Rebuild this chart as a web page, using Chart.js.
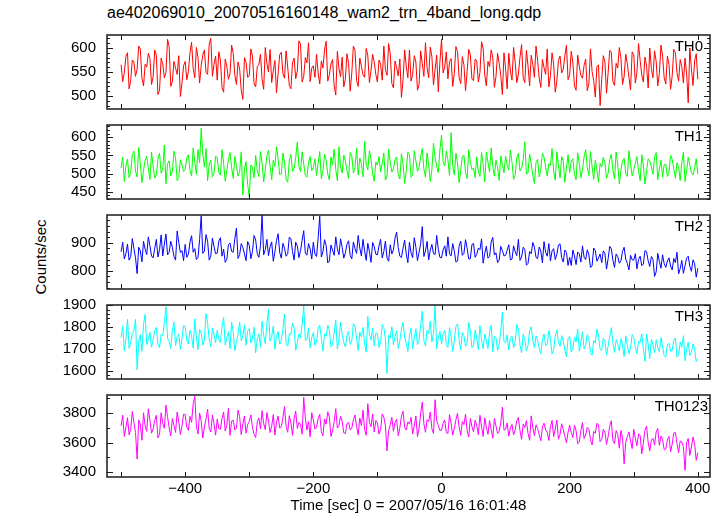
<!DOCTYPE html>
<html>
<head>
<meta charset="utf-8">
<script src="https://cdn.jsdelivr.net/npm/chart.js@4.4.0/dist/chart.umd.min.js"></script>
<style>
  body { margin: 0; background: #fff; }
  #wrap { position: relative; width: 724px; height: 516px; overflow: hidden; font-family: "Liberation Sans", Arial, sans-serif; color: #000; }
  #title { position: absolute; left: 107px; top: 5px; font-size: 16px; line-height: 16px; white-space: nowrap; }
  #ylabel { position: absolute; left: 40px; top: 257px; transform: translate(-50%, -50%) rotate(-90deg); font-size: 15px; line-height: 15px; white-space: nowrap; }
  canvas { position: absolute; left: 0; }
</style>
</head>
<body>
<div id="wrap">
  <div id="title">ae402069010_20070516160148_wam2_trn_4band_long.qdp</div>
  <div id="ylabel">Counts/sec</div>
  <canvas id="c0"></canvas>
  <canvas id="c1"></canvas>
  <canvas id="c2"></canvas>
  <canvas id="c3"></canvas>
  <canvas id="c4"></canvas>
</div>
<script>
// light curves, 2.5 s bins starting at -500 s
const binStart = -500;
const binSize = 2.5;

const th0 = [
  565,530, 548,582, 590,515, 532,575, 571,541, 556,604, 598,537, 521,566, 560,589, 578,524,
  540,596, 585,503, 512,579, 567,538, 549,618, 603,520, 530,572, 558,545, 584,499, 527,563,
  572,534, 551,590, 612,557, 538,601, 580,527, 563,585, 596,549, 545,608, 620,541, 566,583,
  533,592, 575,518, 508,577, 561,535, 547,606, 589,543, 524,571, 556,512, 493,580, 570,539,
  542,598, 583,526, 519,561, 566,587, 535,514, 601,568, 550,597, 528,553, 574,507, 546,586,
  591,547, 537,594, 560,522, 515,569, 579,536, 552,615, 608,529, 541,580, 569,611, 530,558,
  563,539, 587,548, 525,573, 558,596, 614,531, 544,567, 576,521, 502,593, 557,540, 581,519,
  536,588, 568,510, 548,604, 595,532, 520,579, 562,544, 539,599, 584,528, 553,587, 571,545,
  529,575, 566,533, 604,555, 543,609, 588,526, 517,573, 559,542, 577,497, 534,596, 562,538,
  596,531, 545,584, 571,512, 524,594, 567,541, 611,559, 538,602, 582,523, 555,585, 509,570,
  618,548, 560,592, 536,571, 578,520, 547,603, 593,538, 526,582, 565,511, 551,597, 586,535,
  532,577, 573,529, 549,613, 599,544, 521,572, 561,596, 580,518, 540,589, 568,543, 503,590,
  557,515, 589,552, 533,601, 570,528, 546,581, 607,537, 528,595, 563,521, 585,566, 539,604,
  574,537, 518,576, 559,545, 598,519, 542,590, 566,508, 531,574, 583,548, 556,583, 606,534,
  544,593, 569,521, 512,585, 562,543, 537,564, 577,511, 526,598, 551,532, 498,561, 565,480,
  534,584, 571,506, 548,595, 592,530, 522,568, 558,601, 579,524, 541,587, 567,539, 513,592,
  586,527, 550,609, 574,544, 529,581, 563,517, 600,557, 538,594, 572,521, 547,606, 583,538,
  525,583, 566,514, 542,597, 590,549, 531,576, 561,527, 579,547, 486,600, 557,522, 573,588,
  535
];

const th1 = [
  515,546, 478,521, 540,489, 503,552, 562,507, 491,572, 527,475, 509,536, 548,513, 484,559,
  521,488, 497,540, 556,501, 512,579, 472,527, 535,494, 506,562, 543,481, 489,538, 524,506,
  511,543, 552,509, 493,571, 531,498, 566,530, 625,554, 518,569, 480,526, 537,491, 502,548,
  545,503, 496,566, 528,479, 510,539, 558,516, 487,547, 522,493, 505,560, 441,512, 533,470,
  436,524, 517,489, 550,508, 492,561, 529,477, 511,549, 564,519, 483,537, 520,574, 541,497,
  499,557, 532,484, 476,537, 553,506, 514,544, 587,521, 506,560, 526,495, 490,530, 547,508,
  518,541, 495,528, 561,486, 508,553, 537,499, 482,546, 525,567, 512,480, 574,519, 501,551,
  534,509, 487,558, 549,502, 516,570, 496,543, 528,491, 589,526, 510,563, 540,500, 479,532,
  523,547, 505,529, 557,482, 493,568, 531,504, 514,539, 546,497, 485,555, 527,473, 508,559,
  552,490, 498,563, 535,506, 517,548, 569,513, 490,557, 524,478, 511,584, 544,520, 503,565,
  606,533, 521,562, 538,495, 613,522, 497,556, 529,475, 509,547, 551,503, 486,566, 533,511,
  515,489, 546,505, 492,558, 527,477, 560,532, 504,571, 519,493, 537,518, 481,549, 525,502,
  548,524, 510,565, 531,484, 496,543, 556,507, 514,538, 588,499, 502,554, 528,495, 473,531,
  539,491, 512,556, 545,518, 493,527, 522,569, 507,482, 560,523, 488,547, 534,476, 516,552,
  503,534, 541,498, 483,557, 527,489, 511,546, 566,517, 495,561, 520,484, 537,512, 476,528,
  518,545, 531,487, 500,539, 553,510, 485,560, 524,472, 509,536, 542,501, 492,563, 527,494,
  511,529, 547,506, 480,552, 522,471, 506,541, 535,518, 498,547, 558,483, 513,537, 490,525,
  526,492, 504,550, 539,514, 487,530, 519,481, 531,559, 478,508, 545,523, 502,496, 516,541,
  498
];

const th2 = [
  868,902, 842,861, 895,838, 851,915, 880,846, 790,884, 871,832, 905,877, 858,921, 889,853,
  846,880, 912,849, 875,928, 853,896, 931,857, 866,905, 884,851, 838,942, 901,865, 872,836,
  894,848, 859,903, 925,866, 879,840, 847,911, 996,862, 870,929, 905,838, 852,917, 886,861,
  863,906, 918,852, 877,830, 841,893, 899,869, 866,915, 952,844, 858,897, 883,860, 836,904,
  891,843, 869,926, 910,861, 848,890, 998,857, 875,912, 854,886, 903,834, 867,908, 932,865,
  845,898, 880,852, 861,920, 914,869, 838,902, 889,847, 872,909, 943,863, 856,897, 878,842,
  902,860, 851,917, 995,849, 868,911, 890,828, 835,892, 874,855, 921,878, 857,914, 883,845,
  864,895, 907,855, 842,903, 879,862, 926,881, 853,912, 871,837, 898,868, 830,901, 886,859,
  857,889, 912,846, 869,906, 845,834, 893,860, 875,917, 938,883, 852,847, 881,909, 860,829,
  902,863, 847,918, 884,836, 866,897, 958,851, 871,905, 839,874, 894,861, 858,926, 877,848,
  846,875, 889,852, 921,860, 853,897, 870,831, 835,888, 906,855, 862,911, 880,842, 843,894,
  897,848, 859,881, 875,914, 827,862, 888,845, 851,903, 919,856, 864,829, 838,887, 872,853,
  855,873, 893,839, 841,889, 868,854, 912,837, 849,884, 876,820, 826,869, 861,901, 884,848,
  843,885, 870,828, 904,866, 852,897, 835,871, 879,840, 859,892, 896,847, 831,874, 865,819,
  848,819, 874,853, 822,867, 861,831, 889,848, 840,875, 857,812, 818,881, 872,834, 846,860,
  829,871, 862,806, 843,887, 878,838, 812,860, 851,827, 836,869, 884,842, 826,803, 855,839,
  838,861, 807,840, 852,818, 824,872, 868,836, 815,851, 841,780, 796,862, 833,809, 857,826,
  812,835, 846,817, 803,844, 829,866, 789,808, 837,791, 818,845, 852,816, 798,839, 826,777,
  809
];

const th3 = [
  1752,1804, 1690,1746, 1835,1702, 1728,1769, 1781,1835, 1603,1731, 1764,1688, 1812,1858, 1719,1742, 1776,1707,
  1741,1783, 1798,1721, 1705,1766, 1760,1819, 1893,1748, 1733,1702, 1787,1823, 1714,1757, 1769,1697, 1746,1806,
  1804,1739, 1722,1784, 1758,1703, 1837,1752, 1695,1789, 1771,1716, 1740,1862, 1816,1744, 1709,1795, 1763,1728,
  1785,1745, 1728,1803, 1843,1717, 1751,1778, 1701,1822, 1775,1691, 1734,1768, 1822,1737, 1760,1810, 1716,1782,
  1792,1726, 1747,1799, 1681,1743, 1768,1707, 1826,1762, 1724,1814, 1881,1735, 1756,1805, 1698,1758, 1779,1721,
  1738,1787, 1859,1725, 1711,1770, 1766,1818, 1795,1694, 1727,1768, 1752,1811, 1897,1739, 1743,1796, 1704,1752,
  1774,1716, 1732,1794, 1809,1748, 1689,1769, 1758,1807, 1786,1709, 1720,1776, 1832,1698, 1745,1821, 1765,1730,
  1708,1761, 1779,1720, 1736,1815, 1804,1749, 1692,1777, 1755,1798, 1723,1684, 1848,1766, 1741,1795, 1714,1772,
  1770,1706, 1729,1812, 1797,1744, 1586,1762, 1750,1801, 1718,1758, 1783,1702, 1737,1789, 1821,1753, 1726,1688,
  1761,1794, 1700,1753, 1792,1719, 1744,1808, 1873,1736, 1712,1786, 1768,1827, 1731,1771, 1899,1701, 1749,1780,
  1722,1768, 1785,1719, 1706,1797, 1757,1688, 1738,1803, 1814,1742, 1695,1775, 1760,1711, 1727,1821, 1782,1705,
  1715,1786, 1748,1697, 1806,1739, 1699,1768, 1737,1701, 1776,1809, 1685,1758, 1752,1692, 1721,1781, 1869,1733,
  1728,1764, 1694,1751, 1759,1704, 1733,1812, 1790,1716, 1681,1767, 1744,1690, 1716,1783, 1801,1738, 1706,1759,
  1739,1702, 1677,1743, 1768,1715, 1720,1783, 1748,1676, 1696,1758, 1787,1729, 1711,1760, 1735,1694, 1663,1747,
  1757,1685, 1702,1752, 1731,1790, 1689,1731, 1778,1699, 1717,1765, 1744,1683, 1670,1738, 1726,1790, 1761,1697,
  1693,1749, 1735,1670, 1712,1756, 1797,1727, 1683,1741, 1722,1690, 1747,1718, 1664,1759, 1715,1678, 1701,1766,
  1752,1707, 1676,1733, 1729,1768, 1698,1642, 1768,1722, 1655,1743, 1718,1682, 1741,1704, 1687,1752, 1709,1669,
  1661,1719, 1724,1688, 1693,1740, 1749,1662, 1672,1729, 1706,1760, 1645,1698, 1731,1669, 1684,1722, 1698,1641,
  1652
];

const th0123 = [
  3712,3785, 3641,3700, 3768,3652, 3689,3809, 3735,3668, 3488,3753, 3724,3615, 3801,3712, 3676,3828, 3750,3663,
  3693,3749, 3784,3632, 3655,3801, 3729,3696, 3853,3774, 3701,3645, 3762,3716, 3668,3806, 3741,3654, 3710,3792,
  3789,3703, 3682,3777, 3736,3862, 3912,3712, 3657,3799, 3745,3631, 3704,3759, 3826,3695, 3671,3786, 3728,3650,
  3758,3694, 3690,3763, 3805,3677, 3719,3832, 3648,3745, 3752,3684, 3697,3819, 3774,3653, 3726,3778, 3663,3721,
  3741,3787, 3702,3656, 3634,3740, 3766,3693, 3815,3729, 3687,3802, 3748,3667, 3711,3789, 3650,3736, 3779,3698,
  3706,3768, 3843,3709, 3669,3781, 3733,3648, 3761,3812, 3695,3736, 3722,3656, 3905,3766, 3684,3742, 3639,3801,
  3752,3690, 3703,3762, 3790,3673, 3646,3759, 3724,3807, 3771,3641, 3680,3740, 3829,3697, 3715,3778, 3743,3665,
  3661,3727, 3738,3685, 3697,3753, 3786,3708, 3652,3765, 3714,3818, 3689,3649, 3862,3737, 3706,3793, 3671,3749,
  3733,3657, 3688,3794, 3770,3713, 3543,3681, 3719,3770, 3676,3735, 3757,3646, 3700,3778, 3811,3703, 3684,3739,
  3724,3770, 3657,3712, 3779,3640, 3698,3796, 3874,3728, 3669,3754, 3741,3806, 3692,3661, 3889,3749, 3715,3682,
  3683,3731, 3752,3667, 3661,3789, 3729,3650, 3694,3754, 3797,3706, 3648,3742, 3721,3792, 3680,3637, 3763,3707,
  3672,3751, 3716,3653, 3784,3706, 3641,3767, 3703,3655, 3748,3688, 3629,3762, 3712,3661, 3676,3732, 3838,3684,
  3689,3732, 3643,3698, 3722,3651, 3685,3746, 3769,3680, 3621,3726, 3701,3748, 3663,3615, 3780,3703, 3647,3719,
  3694,3653, 3612,3705, 3731,3684, 3668,3614, 3707,3749, 3640,3691, 3752,3622, 3655,3727, 3688,3641, 3597,3669,
  3716,3667, 3633,3716, 3679,3592, 3602,3681, 3735,3627, 3651,3702, 3690,3618, 3584,3675, 3662,3730, 3719,3606,
  3618,3689, 3670,3587, 3639,3709, 3747,3614, 3592,3680, 3655,3561, 3682,3630, 3455,3601, 3640,3672, 3611,3559,
  3689,3628, 3578,3658, 3648,3523, 3597,3683, 3711,3602, 3543,3616, 3629,3582, 3672,3695, 3581,3643, 3620,3551,
  3556,3618, 3641,3538, 3589,3665, 3668,3594, 3532,3610, 3604,3571, 3412,3598, 3627,3513, 3570,3637, 3592,3480,
  3531
];

const series = [th0, th1, th2, th3, th0123];
const bandNames = ['TH0', 'TH1', 'TH2', 'TH3', 'TH0123'];
const colors = ['#ff0000', '#00ff00', '#0000ff', '#00ffff', '#ff00ff'];

// axis ranges and ticks for each panel
const yMin = [473, 430, 735, 1561, 3367];
const yMax = [627, 634, 999, 1901, 3921];
const yMajor = [50, 50, 100, 100, 200];
const yMinor = [10, 10, 20, 20, 100];
const xMin = -522, xMax = 419;
const xTickStep = 100;

const time = th0.map((_, i) => binStart + i * binSize);
const family = '"Liberation Sans", Arial, sans-serif';

const panelTop = 27, panelH = 90, pad = 12, xAxisH = 39;

// inward frame ticks like qdp draws them
const qdpFrame = {
  id: 'qdpFrame',
  afterDraw(chart, args, opts) {
    const { ctx, chartArea: a } = chart;
    const xs = chart.scales.x, ys = chart.scales.y;
    ctx.save();
    ctx.strokeStyle = '#1a1a1a';
    ctx.lineWidth = 1;
    ctx.beginPath();
    for (let t = Math.ceil(xs.min / xTickStep) * xTickStep; t <= xs.max; t += xTickStep) {
      const px = Math.round(xs.getPixelForValue(t)) + 0.5;
      ctx.moveTo(px, a.top); ctx.lineTo(px, a.top + 5);
      ctx.moveTo(px, a.bottom); ctx.lineTo(px, a.bottom - 5);
    }
    for (let v = Math.ceil(ys.min / opts.minor) * opts.minor; v <= ys.max; v += opts.minor) {
      const py = Math.round(ys.getPixelForValue(v)) + 0.5;
      const len = v % opts.major === 0 ? 6 : 3;
      ctx.moveTo(a.left, py); ctx.lineTo(a.left + len, py);
      ctx.moveTo(a.right, py); ctx.lineTo(a.right - len, py);
    }
    ctx.stroke();
    ctx.lineWidth = 1.5;
    ctx.strokeRect(a.left, a.top, a.right - a.left, a.bottom - a.top);
    ctx.fillStyle = '#000';
    ctx.font = '15px ' + family;
    ctx.textAlign = 'right';
    ctx.textBaseline = 'alphabetic';
    ctx.fillText(opts.label, opts.labelRight, a.top + 15.5);
    ctx.restore();
  }
};

series.forEach((vals, i) => {
  const last = i === series.length - 1;
  const canvas = document.getElementById('c' + i);
  const h = panelH + pad + (last ? xAxisH : pad);
  canvas.width = 724;
  canvas.height = h;
  canvas.style.width = '724px';
  canvas.style.height = h + 'px';
  canvas.style.top = (panelTop + i * panelH - pad) + 'px';

  new Chart(canvas, {
    type: 'line',
    data: {
      datasets: [{
        label: bandNames[i],
        data: vals.map((v, k) => ({ x: time[k], y: v })),
        borderColor: colors[i],
        borderWidth: 1,
        pointRadius: 0,
        tension: 0
      }]
    },
    options: {
      responsive: false,
      animation: false,
      devicePixelRatio: 1,
      layout: { padding: { left: 0, right: 14, top: pad, bottom: last ? 0 : pad } },
      plugins: {
        legend: { display: false },
        tooltip: { enabled: false },
        qdpFrame: { label: bandNames[i], labelRight: last ? 708 : 703, major: yMajor[i], minor: yMinor[i] }
      },
      scales: {
        x: {
          type: 'linear',
          min: xMin,
          max: xMax,
          display: last,
          afterFit: s => { if (last) s.height = xAxisH; },
          grid: { display: false, drawTicks: false },
          border: { display: false },
          ticks: {
            stepSize: 200,
            includeBounds: false,
            maxRotation: 0,
            autoSkip: false,
            padding: 3,
            color: '#000',
            font: { size: 15, family },
            callback: v => String(v).replace('-', '\u2212')
          },
          title: {
            display: true,
            text: 'Time [sec] 0 = 2007/05/16 16:01:48',
            color: '#000',
            font: { size: 15, family },
            padding: { top: 0, bottom: 1 }
          }
        },
        y: {
          min: yMin[i],
          max: yMax[i],
          afterFit: s => { s.width = 107; },
          grid: { display: false, drawTicks: false },
          border: { display: false },
          ticks: {
            stepSize: yMajor[i],
            includeBounds: false,
            autoSkip: false,
            padding: 11,
            color: '#000',
            font: { size: 15, family },
            callback: v => String(v)
          }
        }
      }
    },
    plugins: [qdpFrame]
  });
});
</script>
</body>
</html>
